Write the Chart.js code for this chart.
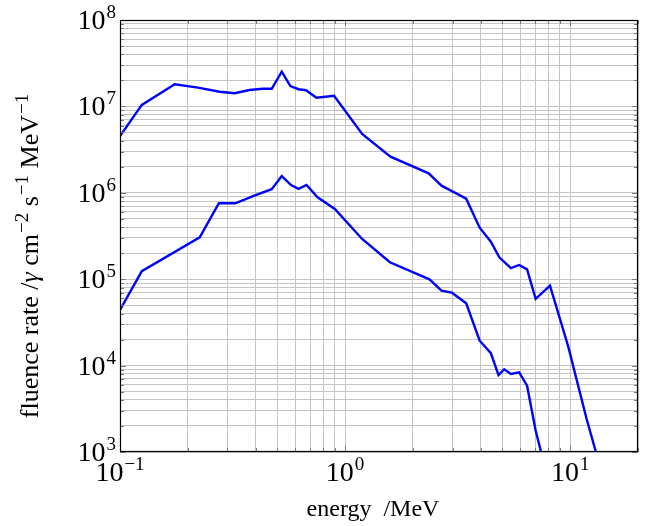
<!DOCTYPE html>
<html>
<head>
<meta charset="utf-8">
<script src="https://cdn.jsdelivr.net/npm/chart.js@4"></script>
<style>
  html, body { margin: 0; padding: 0; background: #ffffff; }
  #wrap { width: 647px; height: 526px; }
</style>
</head>
<body>
<div id="wrap"><canvas id="c" width="647" height="526"></canvas></div>
<script>
// ---- data ----
const upperEnergy = [0.1, 0.125, 0.175, 0.222, 0.277, 0.323, 0.376, 0.430, 0.472, 0.523, 0.571, 0.621, 0.670, 0.746, 0.893,
  1.19, 1.59, 2.35, 2.68, 3.45, 3.96, 4.44, 4.84, 5.45, 5.93, 6.43, 7.02, 8.13, 9.80, 11.8, 13.0];
const upperRate = [4.54e6, 1.04e7, 1.80e7, 1.65e7, 1.48e7, 1.42e7, 1.55e7, 1.60e7, 1.60e7, 2.52e7, 1.72e7, 1.58e7, 1.54e7, 1.26e7, 1.33e7,
  4.80e6, 2.62e6, 1.68e6, 1.21e6, 8.55e5, 3.95e5, 2.72e5, 1.79e5, 1.34e5, 1.46e5, 1.30e5, 5.93e4, 8.41e4, 1.66e4, 2.46e3, 1.0e3];

const lowerEnergy = [0.1, 0.125, 0.226, 0.275, 0.325, 0.403, 0.472, 0.523, 0.575, 0.621, 0.674, 0.754, 0.900,
  1.19, 1.58, 2.37, 2.68, 2.98, 3.45, 3.96, 4.44, 4.80, 5.09, 5.45, 5.93, 6.43, 7.02, 7.42];
const lowerRate = [4.40e4, 1.24e5, 3.05e5, 7.57e5, 7.57e5, 9.45e5, 1.10e6, 1.56e6, 1.23e6, 1.11e6, 1.23e6, 8.87e5, 6.49e5,
  2.92e5, 1.57e5, 9.98e4, 7.37e4, 6.98e4, 5.26e4, 1.94e4, 1.39e4, 7.78e3, 9.06e3, 8.0e3, 8.36e3, 5.85e3, 1.77e3, 1.0e3];

// tick labels: base and exponent (drawn as 10^n)
const xMajorTicks = [0.1, 1, 10];
const xTickExponents = ['\u22121', '0', '1'];
const yMajorTicks = [1e3, 1e4, 1e5, 1e6, 1e7, 1e8];
const yTickExponents = ['3', '4', '5', '6', '7', '8'];
const tickBase = '10';
const xTitle = 'energy  /MeV';
// y title as rich segments: [text, style]  style: n = normal, i = italic, s = superscript
const yTitleParts = [['fluence rate /', 'n'], ['\u03B3', 'i'], [' cm', 'n'], ['\u22122', 's'], [' s', 'n'], ['\u22121', 's'], [' MeV', 'n'], ['\u22121', 's']];

// ---- helpers ----
function logTicks(min, max) {
  const out = [];
  for (let e = Math.floor(Math.log10(min)); e <= Math.ceil(Math.log10(max)); e++) {
    for (let s = 1; s <= 9; s++) {
      const v = parseFloat((s * Math.pow(10, e)).toPrecision(6));
      if (v >= min * 0.9999 && v <= max * 1.0001) out.push(v);
    }
  }
  return out;
}
function isMajor(v, majors) { return majors.some(m => Math.abs(v / m - 1) < 1e-6); }

const serifFam = "'Liberation Serif', 'DejaVu Serif', serif";
const gridColor = '#c4c4c4';
const baseFont = '28px ' + serifFam;
const expFont = '19px ' + serifFam;

function powerWidth(ctx, exp) {
  ctx.font = baseFont; const w1 = ctx.measureText(tickBase).width;
  ctx.font = expFont; const w2 = ctx.measureText(exp).width;
  return [w1, w2];
}
function drawPower(ctx, exp, xLeft, baseline) {
  const [w1] = powerWidth(ctx, exp);
  ctx.font = baseFont; ctx.fillText(tickBase, xLeft, baseline);
  ctx.font = expFont; ctx.fillText(exp, xLeft + w1 + 1, baseline - 11);
}

const decorPlugin = {
  id: 'decor',
  afterDatasetsDraw(chart) {
    const {ctx, chartArea: a, scales} = chart;
    ctx.save();
    // inner tick marks
    ctx.strokeStyle = '#7a7a7a';
    ctx.lineWidth = 1;
    ctx.beginPath();
    scales.x.ticks.forEach(t => {
      const px = Math.round(scales.x.getPixelForValue(t.value)) + 0.5;
      const len = isMajor(t.value, xMajorTicks) ? 6 : 4;
      ctx.moveTo(px, a.bottom); ctx.lineTo(px, a.bottom - len);
      ctx.moveTo(px, a.top); ctx.lineTo(px, a.top + len);
    });
    scales.y.ticks.forEach(t => {
      const py = Math.round(scales.y.getPixelForValue(t.value)) + 0.5;
      const len = isMajor(t.value, yMajorTicks) ? 6 : 4;
      ctx.moveTo(a.left, py); ctx.lineTo(a.left + len, py);
      ctx.moveTo(a.right, py); ctx.lineTo(a.right - len, py);
    });
    ctx.stroke();
    // frame
    ctx.strokeStyle = '#000000';
    ctx.lineWidth = 1.2;
    ctx.strokeRect(a.left + 0.5, a.top + 0.5, a.right - a.left - 1, a.bottom - a.top - 1);

    // tick labels 10^n
    ctx.fillStyle = '#000';
    ctx.textAlign = 'left';
    ctx.textBaseline = 'alphabetic';
    yMajorTicks.forEach((v, i) => {
      const py = scales.y.getPixelForValue(v);
      const [w1, w2] = powerWidth(ctx, yTickExponents[i]);
      const w = w1 + 1 + w2;
      drawPower(ctx, yTickExponents[i], a.left - 4 - w, py + 9);
    });
    xMajorTicks.forEach((v, i) => {
      const px = scales.x.getPixelForValue(v);
      const [w1, w2] = powerWidth(ctx, xTickExponents[i]);
      const w = w1 + 1 + w2;
      drawPower(ctx, xTickExponents[i], px - w / 2, a.bottom + 29);
    });

    // x axis title
    ctx.font = '24px ' + serifFam;
    ctx.textAlign = 'center';
    ctx.fillText(xTitle, (a.left + a.right) / 2 - 6, 516);
    ctx.textAlign = 'left';

    // y axis title (rotated, rich text)
    const fs = 26;
    const fonts = {
      n: fs + 'px ' + serifFam,
      i: 'italic ' + fs + 'px ' + serifFam,
      s: Math.round(fs * 0.72) + 'px ' + serifFam
    };
    let total = 0;
    const widths = yTitleParts.map(([t, st]) => { ctx.font = fonts[st]; const w = ctx.measureText(t).width + (st === 's' ? 1 : 0); total += w; return w; });
    ctx.translate(38, 256);
    ctx.rotate(-Math.PI / 2);
    let x = -total / 2;
    yTitleParts.forEach(([t, st], i) => {
      ctx.font = fonts[st];
      ctx.fillText(t, x + (st === 's' ? 1 : 0), st === 's' ? -10 : 0);
      x += widths[i];
    });
    ctx.restore();
  }
};

new Chart(document.getElementById('c'), {
  type: 'line',
  data: {
    datasets: [
      {
        data: upperEnergy.map((x, i) => ({x, y: upperRate[i]})),
        borderColor: '#0000ff', borderWidth: 2.4, pointRadius: 0, tension: 0, fill: false
      },
      {
        data: lowerEnergy.map((x, i) => ({x, y: lowerRate[i]})),
        borderColor: '#0000ff', borderWidth: 2.4, pointRadius: 0, tension: 0, fill: false
      }
    ]
  },
  options: {
    responsive: false,
    animation: false,
    devicePixelRatio: 1,
    layout: { padding: { top: 20, right: 9, left: 0, bottom: 0 } },
    plugins: { legend: { display: false }, tooltip: { enabled: false } },
    scales: {
      x: {
        type: 'logarithmic',
        min: 0.1, max: 20,
        afterBuildTicks: s => { s.ticks = logTicks(0.1, 20).map(v => ({value: v, major: isMajor(v, xMajorTicks)})); },
        afterFit: s => { s.height = 74; },
        grid: { color: gridColor, lineWidth: 1, drawTicks: false },
        border: { display: false },
        ticks: { display: false },
        title: { display: false }
      },
      y: {
        type: 'logarithmic',
        min: 1e3, max: 1e8,
        afterBuildTicks: s => { s.ticks = logTicks(1e3, 1e8).map(v => ({value: v, major: isMajor(v, yMajorTicks)})); },
        afterFit: s => { s.width = 120; },
        grid: { color: gridColor, lineWidth: 1, drawTicks: false },
        border: { display: false },
        ticks: { display: false },
        title: { display: false }
      }
    }
  },
  plugins: [decorPlugin]
});
</script>
</body>
</html>
